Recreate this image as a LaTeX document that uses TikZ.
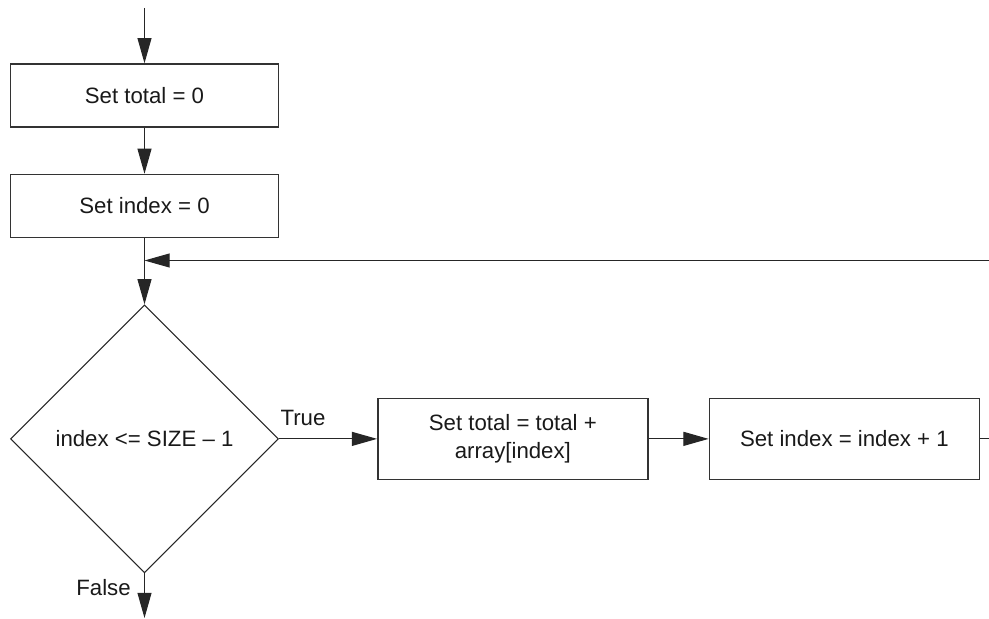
\documentclass[tikz,border=0pt]{standalone}
\usepackage{fontspec}
\setmainfont{Liberation Sans}
\usetikzlibrary{positioning,arrows.meta,shapes.geometric}
\tikzset{
  blk/.style     ={draw=black!80, line width=1.1pt, rectangle, align=center, minimum width=6.7cm, minimum height=1.575cm, font=\fontsize{15.8}{20}\selectfont, text=black!90},
  wideblk/.style ={blk, minimum width=6.75cm, minimum height=2.025cm},
  decision/.style={draw=black!85, line width=0.8pt, diamond, aspect=1, inner sep=0pt, minimum width=6.7cm, minimum height=6.7cm, align=center, font=\fontsize{15.8}{20}\selectfont, text=black!90},
  lbl/.style     ={font=\fontsize{15.8}{20}\selectfont, text=black!90, inner sep=0pt},
  arr/.style     ={-{Triangle[length=6.3mm,width=3.5mm]}, line width=0.8pt, draw=black!85},
  ln/.style      ={line width=0.8pt, draw=black!85},
}
\begin{document}
\begin{tikzpicture}
  \useasboundingbox (0,0) rectangle (24.725,-15.475);

  % init blocks
  \node[blk] (settotal) at (3.6125,-2.3875) {Set total = 0};
  \node[blk, below=1.15cm of settotal] (setindex) {Set index = 0};

  % loop test and body
  \node[decision, below=1.65cm of setindex] (test) {index <= SIZE -- 1};
  \node[wideblk, right=2.45cm of test] (addelem) {Set total = total +\\array[index]};
  \node[wideblk, right=1.5cm of addelem] (incindex) {Set index = index + 1};

  \coordinate (start) at (3.6125,-0.2);
  \coordinate (stop) at (3.6125,-15.45);
  \coordinate (loopout) at (24.725,-10.9375);
  \coordinate (loopin) at (24.725,-6.5125);

  \draw[arr] (start) -- (settotal.north);
  \draw[arr] (settotal.south) -- (setindex.north);
  \draw[arr] (setindex.south) -- (test.north);
  \draw[arr] (test.east) -- (addelem.west);
  \draw[arr] (addelem.east) -- (incindex.west);
  \draw[arr] (test.south) -- (test.south |- stop);
  \draw[ln] (incindex.east) -- (incindex.east -| loopout);
  \draw[arr] (loopin) -- (loopin -| test.north);

  \node[lbl] (ltrue) at (7.575,-10.45) {True};
  \node[lbl] (lfalse) at (2.5875,-14.7) {False};
\end{tikzpicture}
\end{document}
